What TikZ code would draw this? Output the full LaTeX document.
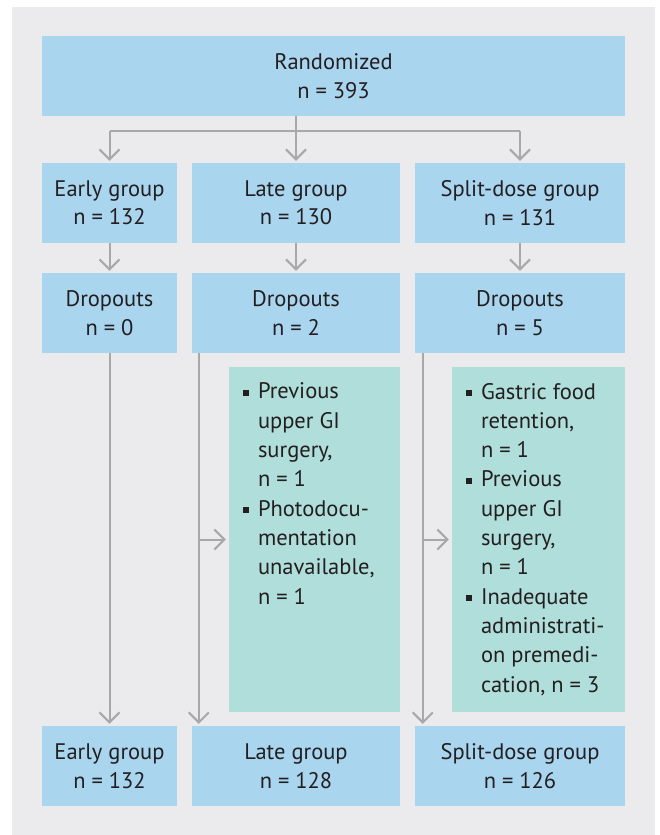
\documentclass[tikz,border=0pt]{standalone}
\usepackage{fontspec}
\setmainfont{PT Sans}
\usepackage{xcolor}
\usetikzlibrary{positioning,
	calc,
	arrows.meta}
\definecolor{bgGrey}{HTML}{EBEBEE}
\definecolor{boxBlue}{HTML}{A9D5EF}
\definecolor{boxGreen}{HTML}{B0DEDA}
\definecolor{lnGrey}{HTML}{A8A8A8}
\definecolor{txtDark}{HTML}{231F20}
\tikzstyle{blk}=[fill=boxBlue, inner sep=0, align=center, text=txtDark,
		font=\fontsize{22.5}{28.5}\selectfont]
\tikzstyle{ex}=[fill=boxGreen, inner sep=0]
\tikzstyle{exTxt}=[inner sep=0, align=left, anchor=north west, text=txtDark,
		font=\fontsize{22.5}{29.3}\selectfont]
\tikzstyle{arr}=[draw=lnGrey, line width=2pt,
		-{Straight Barb[length=10pt,width=20pt,line width=2pt]}]
\tikzstyle{ln}=[draw=lnGrey, line width=2pt]
\newcommand{\itm}{\makebox[15pt][l]{\rule[3pt]{6pt}{6pt}}}
\newcommand{\ind}{\hspace*{15pt}}

\begin{document}
\begin{tikzpicture}[x=1pt, y=-1pt]
	\useasboundingbox (0,0) rectangle (660,835);
	\fill[bgGrey] (12,7) rectangle (655,835);

	% top
	\node[blk, minimum width=583pt, minimum height=80pt] (rand) at (333.5,76) {Randomized\\n = 393};

	% groups
	\node[blk, minimum width=135pt, minimum height=80pt] (early) at (109.5,203) {Early group\\n = 132};
	\node[blk, minimum width=208pt, minimum height=80pt] (late) at (296,203) {Late group\\n = 130};
	\node[blk, minimum width=210pt, minimum height=80pt] (split) at (520,203) {Split-dose group\\n = 131};

	% dropouts
	\node[blk, minimum width=135pt, minimum height=80pt] (dEarly) at (109.5,313) {Dropouts\\n = 0};
	\node[blk, minimum width=208pt, minimum height=80pt] (dLate) at (296,313) {Dropouts\\n = 2};
	\node[blk, minimum width=210pt, minimum height=80pt] (dSplit) at (520,313) {Dropouts\\n = 5};

	% reasons
	\node[ex, minimum width=171pt, minimum height=345pt] (rLate) at (314.5,539.5) {};
	\node[ex, minimum width=173pt, minimum height=345pt] (rSplit) at (538.5,539.5) {};
	\node[exTxt] (tLate) at ([xshift=14pt,yshift=-16pt]rLate.north west)
		{\itm Previous\\\ind upper GI\\\ind surgery,\\\ind n = 1\\
		 \itm Photodocu-\\\ind mentation\\\ind unavailable,\\\ind n = 1};
	\node[exTxt] (tSplit) at ([xshift=14pt,yshift=-16pt]rSplit.north west)
		{\itm Gastric food\\\ind retention,\\\ind n = 1\\
		 \itm Previous\\\ind upper GI\\\ind surgery,\\\ind n = 1\\
		 \itm Inadequate\\\ind administrati-\\\ind on premedi-\\\ind cation, n = 3};

	% final
	\node[blk, minimum width=135pt, minimum height=80pt] (fEarly) at (109.5,766) {Early group\\n = 132};
	\node[blk, minimum width=208pt, minimum height=80pt] (fLate) at (296,766) {Late group\\n = 128};
	\node[blk, minimum width=210pt, minimum height=80pt] (fSplit) at (520,766) {Split-dose group\\n = 126};

	% connectors
	\coordinate (br) at ($(late.north |- rand.south)+(0,15)$);
	\draw[ln] (late.north |- rand.south) -- (br);
	\draw[ln] (early.north |- br) -- (split.north |- br);
	\foreach \g in {early,late,split}
		\draw[arr, shorten >=2pt] (\g.north |- br) -- (\g.north);
	\draw[arr, shorten >=2pt] (early) -- (dEarly);
	\draw[arr, shorten >=2pt] (late) -- (dLate);
	\draw[arr, shorten >=2pt] (split) -- (dSplit);

	\draw[arr, shorten >=2pt] (dEarly) -- (fEarly);
	\coordinate (sLate) at ([xshift=7pt]dLate.south west);
	\coordinate (sSplit) at ([xshift=8pt]dSplit.south west);
	\draw[arr, shorten >=2pt] (sLate) -- (sLate |- fLate.north);
	\draw[arr, shorten >=2pt] (sSplit) -- (sSplit |- fSplit.north);
	\draw[arr, shorten >=3pt] (sLate |- rLate.west) -- (rLate.west);
	\draw[arr, shorten >=3pt] (sSplit |- rSplit.west) -- (rSplit.west);
\end{tikzpicture}
\end{document}
